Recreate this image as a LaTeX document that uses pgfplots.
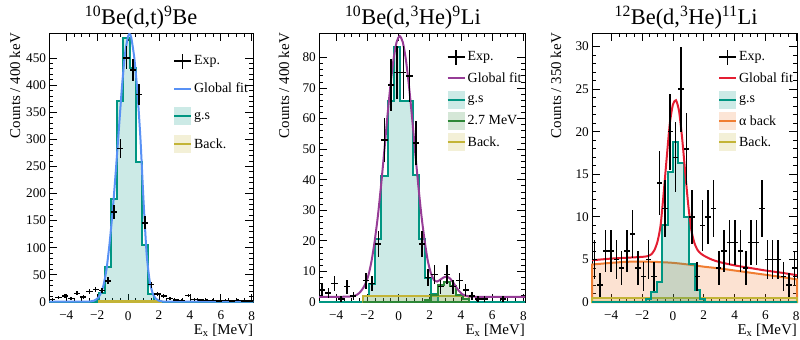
\documentclass[border=0pt]{standalone}
\usepackage{fontspec}
\setmainfont{Liberation Serif}
\usepackage{pgfplots}
\pgfplotsset{compat=1.18}

\definecolor{gsc}{RGB}{0,150,130}
\definecolor{backc}{RGB}{195,180,55}
\definecolor{exc}{RGB}{45,135,55}
\definecolor{alphac}{RGB}{240,125,50}
\definecolor{fitblue}{RGB}{88,145,245}
\definecolor{fitpurple}{RGB}{150,60,150}
\definecolor{fitred}{RGB}{228,30,50}

\pgfplotsset{
  spectrum/.style={
    scale only axis, height=269bp,
    axis line style={line width=0.9bp},
    tick align=inside, tick pos=both,
    xticklabel pos=lower, yticklabel pos=left,
    major tick length=8bp, minor tick length=4bp,
    tick style={black, line width=0.8bp},
    minor x tick num=3, minor y tick num=4,
    ymin=0,
    xtick={-4,-2,0,2,4,6,8},
    xticklabels={−4,−2,0,2,4,6,8},
    /pgf/number format/assume math mode=true,
    ticklabel style={font=\fontsize{13.3}{14}\selectfont},
    xticklabel style={inner sep=0pt, yshift=-9bp},
    yticklabel style={inner sep=0pt, xshift=-3bp},
    xlabel={E\textsubscript{x} [MeV]},
    xlabel style={at={(axis description cs:1,0)}, anchor=base east, yshift=-32bp,
                  inner sep=0pt, font=\fontsize{15}{16}\selectfont},
    ylabel style={anchor=east, inner sep=0pt, font=\fontsize{15}{16}\selectfont},
    title style={anchor=base, yshift=3bp, inner sep=0pt, font=\fontsize{22.5}{24}\selectfont},
    legend style={draw=none, fill=none, inner sep=0pt, outer sep=0pt,
                  font=\fontsize{14}{16}\selectfont, anchor=north west},
    legend cell align=left,
    /tikz/every even column/.append style={column sep=3bp},
    clip=false,
  },
  leg exp/.style={legend image code/.code={
     \path[draw=none, fill=none] (0bp,-9bp) rectangle (17bp,9bp);
     \draw[black, fill=none, line width=1.5bp] (0bp,0bp) -- (17bp,0bp) (8.5bp,-7.5bp) -- (8.5bp,7.5bp);}},
  leg line/.style={legend image code/.code={
     \path[draw=none, fill=none] (0bp,-9bp) rectangle (17bp,9bp);
     \draw[#1, fill=none, line width=2bp] (0bp,0bp) -- (17bp,0bp);}},
  leg box/.style={legend image code/.code={
     \path[draw=none, fill=#1, fill opacity=0.2] (0bp,-9bp) rectangle (17bp,9bp);
     \draw[#1, fill=none, line width=2bp] (0bp,0bp) -- (17bp,0bp);}},
  hist/.style={const plot, draw=#1, fill=#1, fill opacity=0.2, draw opacity=1, line width=2bp, forget plot},
  fitline/.style={smooth, tension=0.4, draw=#1, line width=2bp, forget plot},
  data/.style={draw=none, mark=none, forget plot,
    error bars/.cd, x dir=both, x fixed=#1, y dir=both, y explicit, error mark=none,
    error bar style={draw=black, line width=1.5bp}},
}

\begin{document}
\begin{tikzpicture}
\path[use as bounding box] (0bp,0bp) rectangle (800bp,340bp);

% ---------------- 10Be(d,t)9Be ----------------
\begin{axis}[spectrum, at={(49.3bp,38bp)}, anchor=south west, width=204bp,
  xmin=-5.1, xmax=8.1, ymax=496, ytick={0,50,...,450},
  ylabel={Counts / 400 keV}, ylabel style={at={(axis description cs:-0.168,1)}},
  title={\textsuperscript{10}Be(d,t)\textsuperscript{9}Be},
  title style={at={(axis description cs:0.45,1)}},
  legend style={at={(axis description cs:0.607,0.929)}, row sep=9.7bp}]
\addlegendimage{leg exp}\addlegendentry{Exp.}
\addlegendimage{leg line=fitblue}\addlegendentry{Global fit}
\addlegendimage{leg box=gsc}\addlegendentry{g.s}
\addlegendimage{leg box=backc}\addlegendentry{Back.}

\addplot[hist=gsc] coordinates {(-5.1,0) (-2.3,2) (-1.9,16) (-1.5,65) (-1.1,190) (-0.7,371)
  (-0.3,486) (0.1,432) (0.5,258) (0.9,105) (1.3,14) (1.7,2) (2.1,0) (8.1,0)} \closedcycle;
\addplot[hist=backc] coordinates {(-1.9,2) (2.1,2)} \closedcycle;
\addplot[fitline=fitblue] table {
x y
-5.1 0.5
-3.0 0.5
-2.5 0.9
-2.2 2.5
-2.0 6
-1.8 14
-1.6 30
-1.4 60
-1.2 108
-1.0 168
-0.8 240
-0.6 318
-0.4 396
-0.2 458
0.0 490
0.1 494
0.2 488
0.4 450
0.6 388
0.8 300
1.0 185
1.2 88
1.4 38
1.6 15
1.8 6
2.0 2.2
2.3 0.8
2.6 0.5
8.1 0.5
};
\addplot[data=0.2] table[x=x, y=y, y error=e] {
x y e
-4.9 5 2.24
-4.5 8 2.83
-4.1 11 3.32
-3.7 6 2.45
-3.3 16 4.0
-2.9 9 3.0
-2.5 19 4.36
-2.1 23 4.80
-1.7 21 4.58
-1.3 39 6.24
-0.9 166 12.9
-0.5 283 16.8
-0.1 450 21.2
0.3 428 20.7
0.7 383 19.6
1.1 146 12.1
1.5 32 5.66
1.9 15 3.87
2.3 11 3.32
2.7 6 2.45
3.1 4 2.0
3.5 3 1.73
3.9 12 3.46
4.3 5 2.24
4.7 4 2.0
5.1 3 1.73
5.5 3 1.73
5.9 2 1.41
6.3 3 1.73
6.7 2 1.41
7.1 3 1.73
7.5 2 1.41
7.9 2 1.41
};
\end{axis}

% ---------------- 10Be(d,3He)9Li ----------------
\begin{axis}[spectrum, at={(319bp,38bp)}, anchor=south west, width=206bp,
  xmin=-5.1, xmax=8.1, ymax=88, ytick={0,10,...,80},
  ylabel={Counts / 400 keV}, ylabel style={at={(axis description cs:-0.17,1)}},
  title={\textsuperscript{10}Be(d,\textsuperscript{3}He)\textsuperscript{9}Li},
  title style={at={(axis description cs:0.456,1)}},
  legend style={at={(axis description cs:0.62,0.944)}, row sep=3.3bp}]
\addlegendimage{leg exp}\addlegendentry{Exp.}
\addlegendimage{leg line=fitpurple}\addlegendentry{Global fit}
\addlegendimage{leg box=gsc}\addlegendentry{g.s}
\addlegendimage{leg box=exc}\addlegendentry{2.7 MeV}
\addlegendimage{leg box=backc}\addlegendentry{Back.}

\addplot[hist=gsc] coordinates {(-5.1,0) (-2.3,2) (-1.9,6) (-1.5,20.5) (-1.1,41.3) (-0.7,65.8)
  (-0.3,83.3) (0.1,65.8) (0.5,65.8) (0.9,41.5) (1.3,20.5) (1.7,8) (2.1,2.5) (2.5,0) (8.1,0)} \closedcycle;
\addplot[hist=backc] coordinates {(-2.3,2) (4.5,2)} \closedcycle;
\addplot[hist=exc] coordinates {(-2.3,0) (1.7,0.5) (2.1,2.3) (2.5,5.6) (2.9,6.6) (3.3,5.3)
  (3.7,2.3) (4.1,1.0) (4.5,0)} \closedcycle;
\addplot[fitline=fitpurple] table {
x y
-5.1 1.7
-3.5 1.72
-3.0 1.85
-2.73 2.2
-2.53 2.9
-2.33 4.1
-2.13 5.9
-1.93 8.8
-1.73 13.5
-1.53 20.0
-1.33 28.0
-1.13 37.8
-0.93 48.6
-0.73 60.0
-0.53 70.5
-0.33 79.2
-0.13 85.0
0.07 87.0
0.27 85.0
0.47 79.2
0.67 70.5
0.87 60.0
1.07 48.6
1.27 37.8
1.47 28.0
1.67 20.0
1.87 13.5
2.07 9.4
2.27 7.2
2.47 6.7
2.67 7.3
2.87 8.0
3.07 8.3
3.27 7.8
3.47 6.6
3.67 5.0
3.87 3.6
4.07 2.6
4.27 2.1
4.47 1.85
4.8 1.72
8.1 1.7
};
\addplot[data=0.2] table[x=x, y=y, y error=e] {
x y e
-4.9 4 2.0
-4.5 3 1.73
-4.1 6 2.45
-3.7 1 1.0
-3.3 5 2.24
-2.9 2 1.41
-2.1 7 2.65
-1.7 6 2.45
-1.3 19 4.36
-0.9 53 7.28
-0.5 71 8.43
-0.1 75 8.66
0.3 75 8.66
0.7 74 8.60
1.1 52 7.21
1.5 19 4.36
1.9 8 2.83
2.3 9 3.0
2.7 5 2.24
3.1 9 3.0
3.5 5 2.24
3.9 7 2.65
4.3 4 2.0
4.7 2 1.41
5.1 1 1.0
5.5 1 1.0
6.7 1 1.0
};
\end{axis}

% ---------------- 12Be(d,3He)11Li ----------------
\begin{axis}[spectrum, at={(592bp,38bp)}, anchor=south west, width=205bp,
  xmin=-5.25, xmax=8.05, ymax=31.6, ytick={0,5,...,30},
  ylabel={Counts / 350 keV}, ylabel style={at={(axis description cs:-0.176,1)}},
  title={\textsuperscript{12}Be(d,\textsuperscript{3}He)\textsuperscript{11}Li},
  title style={at={(axis description cs:0.459,1)}},
  legend style={at={(axis description cs:0.615,0.944)}, row sep=3.3bp}]
\addlegendimage{leg exp}\addlegendentry{Exp.}
\addlegendimage{leg line=fitred}\addlegendentry{Global fit}
\addlegendimage{leg box=gsc}\addlegendentry{g.s}
\addlegendimage{leg box=alphac}\addlegendentry{α back}
\addlegendimage{leg box=backc}\addlegendentry{Back.}

\addplot[smooth, draw=alphac, fill=alphac, fill opacity=0.22, draw opacity=1,
  line width=2bp, forget plot] table {
x y
-5.25 4.4
-4 4.6
-3 4.72
-2 4.75
-1 4.7
0 4.6
1 4.4
2 4.15
3 3.95
4 3.7
5 3.45
6 3.2
7 2.95
8.05 2.65
} \closedcycle;
\addplot[hist=backc] coordinates {(-5.25,0.5) (8.05,0.5)} \closedcycle;
\addplot[hist=gsc] coordinates {(-5.25,0) (-1.75,0.3) (-1.4,1.2) (-1.05,2.4) (-0.7,9.0)
  (-0.35,15.3) (0,18.8) (0.35,16.3) (0.7,10) (1.05,4.5) (1.4,1.4) (1.75,0.3) (2.1,0) (8.05,0)} \closedcycle;
\addplot[fitline=fitred] table {
x y
-5.25 4.9
-4.0 5.1
-3.0 5.2
-2.0 5.3
-1.6 5.4
-1.4 5.6
-1.2 6.1
-1.0 7.1
-0.8 9.0
-0.6 12.8
-0.4 17.0
-0.2 21.0
0.0 23.2
0.2 23.7
0.4 22.4
0.6 19.2
0.8 15.2
1.0 11.3
1.2 8.4
1.4 6.9
1.6 6.1
1.8 5.7
2.0 5.45
2.5 5.0
3.0 4.7
4.0 4.3
5.0 4.0
6.0 3.7
7.0 3.45
8.05 3.15
};
\addplot[data=0.175] table[x=x, y=y, y error=e] {
x y e
-5.075 5 2.24
-4.725 2 1.41
-4.375 6 2.45
-4.025 6 2.45
-3.675 5 2.24
-3.325 4 2.0
-2.975 6 2.45
-2.625 8 2.83
-2.275 4 2.0
-1.925 3 1.73
-1.575 5 2.24
-1.225 3 1.73
-0.875 14 3.74
-0.525 11 3.32
-0.175 20 4.47
0.175 17 4.12
0.525 25 5.0
0.875 18 4.24
1.225 10 3.16
1.575 3 1.73
1.925 9 3.0
2.275 10 3.16
2.625 11 3.32
2.975 4 2.0
3.325 6 2.45
3.675 7 2.65
4.025 7 2.65
4.375 6 2.45
4.725 4 2.0
5.075 7 2.65
5.425 7 2.65
5.775 11 3.32
6.125 5 2.24
6.475 5 2.24
6.825 5 2.24
7.175 3 1.73
7.525 2 1.41
7.875 4 2.0
};
\end{axis}
\end{tikzpicture}
\end{document}
